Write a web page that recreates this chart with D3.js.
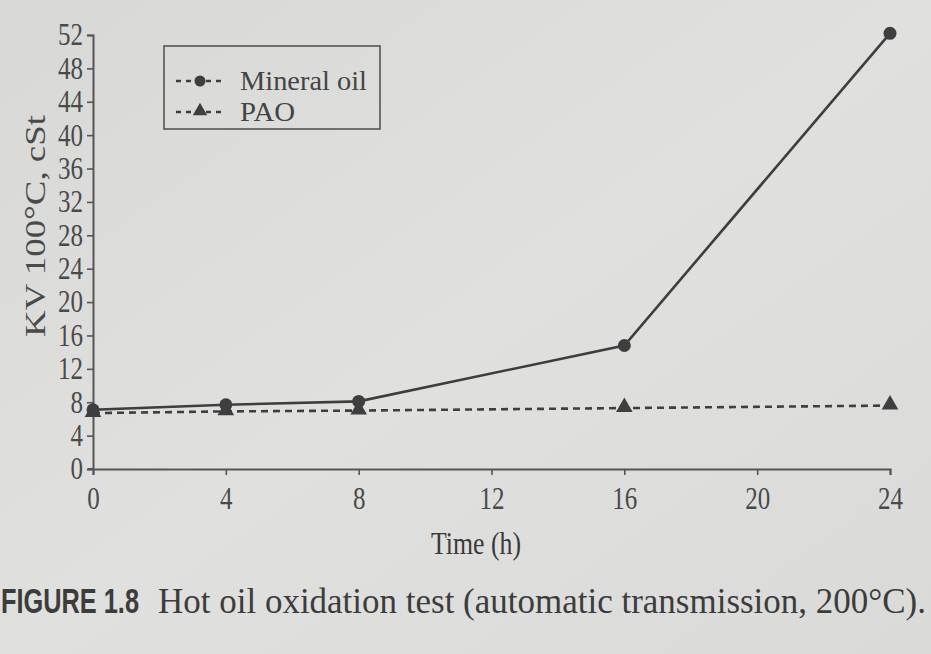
<!DOCTYPE html>
<html><head><meta charset="utf-8">
<script src="https://cdn.jsdelivr.net/npm/d3@7"></script>
<style>
html,body{margin:0;padding:0;background:#dcdcda;}
svg{display:block;}
</style></head>
<body>
<svg id="c" width="931" height="654"></svg>
<script>
const times = [0, 4, 8, 16, 24];
const mineralOil = [7.1, 7.7, 8.1, 14.8, 52.2];
const pao = [6.7, 6.9, 7.0, 7.3, 7.6];
const xTicks = [0, 4, 8, 12, 16, 20, 24];
const yTicks = [0, 4, 8, 12, 16, 20, 24, 28, 32, 36, 40, 44, 48, 52];
const seriesNames = ["Mineral oil", "PAO"];

const ink = "#3e3e3e";
const svg = d3.select("#c");

const defs = svg.append("defs");
const g = defs.append("linearGradient").attr("id","bg").attr("x1","0").attr("y1","0").attr("x2","1").attr("y2","1");
g.append("stop").attr("offset","0").attr("stop-color","#d8d9d7");
g.append("stop").attr("offset","0.5").attr("stop-color","#e0e1df");
g.append("stop").attr("offset","1").attr("stop-color","#dadbd9");
svg.append("rect").attr("width",931).attr("height",654).attr("fill","url(#bg)");

const x = d3.scaleLinear().domain([0, 24]).range([93, 890]);
const y = d3.scaleLinear().domain([0, 52]).range([469, 35]);

const font = "'Liberation Serif', 'DejaVu Serif', serif";

const xAxis = svg.append("g").attr("transform", `translate(0,${y(0)})`)
  .call(d3.axisBottom(x).tickValues(xTicks).tickSize(6).tickPadding(12).tickFormat(d3.format("d")));
const yAxis = svg.append("g").attr("transform", `translate(${x(0)},0)`)
  .call(d3.axisLeft(y).tickValues(yTicks).tickSize(6).tickPadding(4).tickFormat(d3.format("d")));
[xAxis, yAxis].forEach(a => {
  a.selectAll("path.domain").attr("stroke", "#555").attr("stroke-width", 2);
  a.selectAll(".tick line").attr("stroke", "#555").attr("stroke-width", 1.6);
  a.selectAll(".tick text").attr("fill", "#4a4a4a").style("font-family", font).style("font-size", "31px")
    .attr("textLength", d => String(d).length * 12.5).attr("lengthAdjust", "spacingAndGlyphs");
});
svg.append("line").attr("x1", x(0) - 5).attr("x2", x(0)).attr("y1", y(0)).attr("y2", y(0))
  .attr("stroke", "#555").attr("stroke-width", 2);

svg.append("text").attr("x", 476).attr("y", 554).attr("text-anchor", "middle")
  .attr("fill", "#3a3a3a").style("font-family", font).style("font-size", "32px")
  .attr("textLength", 90).attr("lengthAdjust", "spacingAndGlyphs").text("Time (h)");
svg.append("text").attr("transform", "translate(45,226) rotate(-90)").attr("text-anchor", "middle")
  .attr("fill", "#4a4a4a").style("font-family", font).style("font-size", "30px")
  .attr("textLength", 222).attr("lengthAdjust", "spacingAndGlyphs").text("KV 100°C, cSt");

const line = d3.line().x(d => x(d[0])).y(d => y(d[1]));
const mData = times.map((t, i) => [t, mineralOil[i]]);
const pData = times.map((t, i) => [t, pao[i]]);

svg.append("path").datum(pData).attr("d", line).attr("fill", "none")
  .attr("stroke", ink).attr("stroke-width", 2.6).attr("stroke-dasharray", "7,5");
svg.append("path").datum(mData).attr("d", line).attr("fill", "none")
  .attr("stroke", ink).attr("stroke-width", 2.6);

const tri = d3.symbol().type(d3.symbolTriangle).size(120);
svg.selectAll(".pt").data(pData).enter().append("path")
  .attr("transform", d => `translate(${x(d[0])},${y(d[1]) - 1})`)
  .attr("d", tri).attr("fill", ink);
svg.selectAll(".mc").data(mData).enter().append("circle")
  .attr("cx", d => x(d[0])).attr("cy", d => y(d[1])).attr("r", 6.5).attr("fill", ink);

const lg = svg.append("g");
lg.append("rect").attr("x", 164).attr("y", 46).attr("width", 216).attr("height", 83)
  .attr("fill", "none").attr("stroke", "#555").attr("stroke-width", 1.6);
const rows = [81, 112];
seriesNames.forEach((name, i) => {
  const ry = rows[i];
  lg.append("line").attr("x1", 176).attr("x2", 226).attr("y1", ry).attr("y2", ry)
    .attr("stroke", ink).attr("stroke-width", 2.4).attr("stroke-dasharray", "5,5");
  if (i === 0) {
    lg.append("circle").attr("cx", 200).attr("cy", ry).attr("r", 5.5).attr("fill", ink);
  } else {
    lg.append("path").attr("transform", `translate(200,${ry - 1})`)
      .attr("d", d3.symbol().type(d3.symbolTriangle).size(90)).attr("fill", ink);
  }
  lg.append("text").attr("transform", `translate(240,${ry + 9}) scale(1,1.12)`).attr("fill", "#444")
    .style("font-family", font).style("font-size", "24px")
    .attr("textLength", i === 0 ? 127 : 55).attr("lengthAdjust", "spacingAndGlyphs").text(name);
});

svg.append("text").attr("transform", "translate(1,613) scale(1,1.15)").attr("fill", "#3c3c3c")
  .style("font-family", "'Liberation Sans Narrow', 'Liberation Sans', sans-serif")
  .style("font-weight", "bold").style("font-size", "30px")
  .attr("textLength", 138).attr("lengthAdjust", "spacingAndGlyphs").text("FIGURE 1.8");
svg.append("text").attr("transform", "translate(158,613) scale(1,1.1)").attr("fill", "#3c3c3c")
  .style("font-family", font).style("font-size", "33px")
  .attr("textLength", 768).attr("lengthAdjust", "spacingAndGlyphs")
  .text("Hot oil oxidation test (automatic transmission, 200°C).");
</script>
</body></html>
